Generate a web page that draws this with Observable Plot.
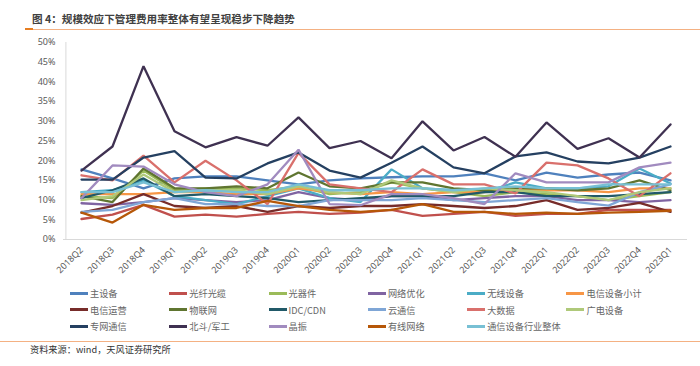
<!DOCTYPE html>
<html><head><meta charset="utf-8">
<script src="https://cdn.jsdelivr.net/npm/d3@7"></script>
<script src="https://cdn.jsdelivr.net/npm/@observablehq/plot@0.6"></script>
<style>
body{margin:0;width:700px;height:366px;background:#fff;position:relative;overflow:hidden;font-family:"Noto Sans CJK SC","Noto Sans",sans-serif;}
#title{position:absolute;left:32px;top:11px;font-size:10.6px;font-weight:bold;color:#404040;}
#tline{position:absolute;left:25px;right:0;top:29px;height:1px;background:#f4b183;}
#tmark{position:absolute;left:25px;width:8px;top:28px;height:2px;background:#e67e22;}
#chart{position:absolute;left:0;top:30px;}
#legend{position:absolute;left:70px;top:285px;width:630px;}
.row{height:16.5px;display:flex;}
.item{width:99.3px;flex-shrink:0;display:flex;align-items:center;font-size:9.2px;color:#666;white-space:nowrap;}
.sw{width:18px;height:3px;margin-right:2px;flex-shrink:0;}
#bline{position:absolute;left:0;right:0;top:341px;height:1px;background:#f4b183;}
#source{position:absolute;left:30px;top:342px;font-size:9.2px;color:#333;}
</style></head>
<body>
<div id="title">图 4：规模效应下管理费用率整体有望呈现稳步下降趋势</div>
<div id="tline"></div><div id="tmark"></div>
<div id="chart"></div>
<div id="legend"></div>
<div id="bline"></div>
<div id="source">资料来源：wind，天风证券研究所</div>
<script>
const quarters = ["2018Q2","2018Q3","2018Q4","2019Q1","2019Q2","2019Q3","2019Q4","2020Q1","2020Q2","2020Q3","2020Q4","2021Q1","2021Q2","2021Q3","2021Q4","2022Q1","2022Q2","2022Q3","2022Q4","2023Q1"];
const seriesNames = ["主设备","光纤光缆","光器件","网络优化","无线设备","电信设备小计","电信运营","物联网","IDC/CDN","云通信","大数据","广电设备","专网通信","北斗/军工","晶振","有线网络","通信设备行业整体"];
const seriesColors = ["#4f81bd","#c0504d","#9bbb59","#8064a2","#4bacc6","#f79646","#772c2a","#5f7530","#215968","#7fa6d6","#d9706c","#afc97a","#254061","#3f3151","#a18bbf","#b65708","#78c0d4"];

const zhuShebei    = [17.8,15.5,13.0,15.5,16.0,16.0,15.0,14.0,15.0,15.5,15.8,16.0,16.0,16.8,15.0,17.0,15.7,16.5,17.0,15.0];
const guangxian    = [5.2,6.3,8.8,5.8,6.3,5.8,6.5,7.0,6.5,6.8,7.5,6.0,6.5,7.0,6.0,6.5,6.5,7.5,7.5,7.5];
const guangqijian  = [11.0,10.5,17.5,12.5,13.0,13.0,12.5,13.5,11.5,12.0,14.5,13.0,12.0,11.0,12.0,11.5,11.0,10.0,11.0,12.0];
const wangluoYouhua= [9.2,8.8,9.5,10.5,10.0,9.5,10.0,12.0,10.5,10.0,11.0,11.0,10.0,10.5,11.0,11.0,10.0,10.0,9.5,10.0];
const wuxian       = [12.0,12.5,15.0,11.0,10.0,9.0,11.0,13.0,10.5,9.5,17.8,13.0,12.5,12.0,14.5,13.0,13.0,13.5,18.0,14.2];
const dianxinXiaoji= [11.5,11.5,11.5,12.0,12.0,11.5,11.5,13.0,12.0,11.5,12.0,11.5,12.0,12.0,12.5,12.5,12.5,12.0,13.0,13.0];
const dianxinYunying=[6.8,8.5,11.5,8.5,8.0,8.5,7.0,8.5,8.0,8.5,8.5,9.0,8.5,8.0,8.5,10.0,7.5,8.0,9.3,7.0];
const wulianwang   = [11.0,9.5,18.0,13.0,13.0,13.5,13.0,17.0,13.5,13.0,14.5,14.5,13.0,12.5,13.0,13.0,12.5,13.0,15.0,12.5];
const idcCdn       = [10.5,12.5,15.5,11.0,11.5,11.0,10.5,9.5,10.0,10.5,11.0,11.0,11.0,12.0,12.0,11.0,11.0,11.0,11.5,12.0];
const yunTongxin   = [7.0,7.5,9.5,10.5,9.0,9.0,8.5,8.5,10.0,10.0,10.0,10.5,10.0,9.5,10.0,10.5,9.5,8.6,12.0,14.0];
const dashuju      = [16.3,15.0,21.3,14.5,20.0,15.0,9.0,22.0,14.0,13.0,12.0,17.8,14.0,14.0,11.7,19.5,18.8,15.5,11.0,16.8];
const guangdian    = [10.0,11.0,16.5,12.0,12.5,12.5,11.5,13.5,12.0,11.5,15.0,13.0,12.0,13.0,12.5,12.0,11.0,10.0,12.0,13.0];
const zhuanwang    = [15.2,15.2,20.8,22.4,15.7,15.5,19.3,22.1,17.5,15.7,19.5,23.6,18.3,16.8,21.1,22.1,19.8,19.3,20.8,23.6];
const beidou       = [17.5,23.6,44.0,27.5,23.4,26.0,23.8,31.0,23.2,25.0,20.6,30.0,22.6,26.0,21.0,29.7,23.0,25.7,20.8,29.2];
const jingzhen     = [10.5,18.8,18.5,14.0,12.0,11.0,14.0,22.8,9.0,8.7,11.5,11.5,10.5,9.0,16.8,14.5,14.5,14.5,18.3,19.5];
const youxian      = [6.8,4.3,8.8,7.5,8.0,8.0,9.8,8.5,7.5,7.0,7.5,9.0,7.0,7.0,6.5,6.8,6.5,6.8,7.0,7.3];
const zhengti      = [12.0,12.0,14.5,12.0,12.5,12.0,12.0,14.0,12.5,12.5,13.0,13.0,12.5,13.0,13.5,13.0,13.0,14.0,14.0,14.0];

const seriesValues = [zhuShebei,guangxian,guangqijian,wangluoYouhua,wuxian,dianxinXiaoji,dianxinYunying,wulianwang,idcCdn,yunTongxin,dashuju,guangdian,zhuanwang,beidou,jingzhen,youxian,zhengti];

const data = [];
seriesNames.forEach((s, i) => seriesValues[i].forEach((v, j) => data.push({series: s, quarter: quarters[j], value: v})));

const chart = Plot.plot({
  width: 700, height: 260,
  marginLeft: 63, marginRight: 13, marginTop: 12, marginBottom: 51,
  style: {fontFamily: "'Noto Sans', 'DejaVu Sans', sans-serif", fontSize: "9px", color: "#595959", background: "transparent"},
  x: {type: "point", domain: quarters, padding: 0.5, label: null, tickSize: 0, tickRotate: -45, tickPadding: 9},
  y: {domain: [0, 50], ticks: d3.range(0, 51, 5), tickFormat: d => d + "%", label: null, tickSize: 0, tickPadding: 8},
  color: {domain: seriesNames, range: seriesColors},
  marks: [
    Plot.ruleY([0], {stroke: "#d9d9d9", strokeWidth: 1}),
    Plot.ruleX([quarters[0]], {stroke: "#d9d9d9", strokeWidth: 1, dx: -15.6, y1: 0, y2: 50}),
    Plot.line(data, {x: "quarter", y: "value", z: "series", stroke: "series", strokeWidth: 2.3, strokeLinejoin: "miter"})
  ]
});
document.getElementById("chart").appendChild(chart);

const legendRows = [seriesNames.slice(0,6), seriesNames.slice(6,12), seriesNames.slice(12)];
const leg = document.getElementById("legend");
legendRows.forEach(row => {
  const r = document.createElement("div"); r.className = "row";
  row.forEach(name => {
    const it = document.createElement("div"); it.className = "item";
    const sw = document.createElement("span"); sw.className = "sw";
    sw.style.background = seriesColors[seriesNames.indexOf(name)];
    const t = document.createElement("span"); t.textContent = name;
    it.appendChild(sw); it.appendChild(t); r.appendChild(it);
  });
  leg.appendChild(r);
});
</script>
</body></html>
